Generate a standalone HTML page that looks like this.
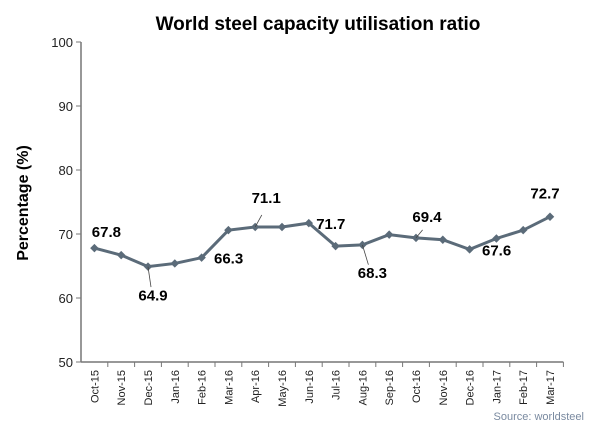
<!DOCTYPE html>
<html><head><meta charset="utf-8"><style>
body{margin:0;background:#fff;}
svg{display:block;font-family:"Liberation Sans",Arial,sans-serif;}
</style></head><body>
<svg id="chart" width="600" height="433">
<text x="318" y="30" text-anchor="middle" font-size="19" font-weight="bold" fill="#000">World steel capacity utilisation ratio</text>
<text transform="translate(28,203) rotate(-90)" text-anchor="middle" font-size="16" font-weight="bold" fill="#000">Percentage (%)</text>
<text x="584" y="420" text-anchor="end" font-size="11" fill="#7a8aa0">Source: worldsteel</text>
<g id="axes"></g><g id="series"></g><g id="labels"></g>
</svg>
<script>
const categories=["Oct-15","Nov-15","Dec-15","Jan-16","Feb-16","Mar-16","Apr-16","May-16","Jun-16","Jul-16","Aug-16","Sep-16","Oct-16","Nov-16","Dec-16","Jan-17","Feb-17","Mar-17"];
const values=[67.8,66.7,64.9,65.4,66.3,70.6,71.1,71.1,71.7,68.1,68.3,69.9,69.4,69.1,67.6,69.3,70.6,72.7];
const yTicks=[50,60,70,80,90,100];
const labeled=[0,2,4,6,8,10,12,14,17];
const ns="http://www.w3.org/2000/svg";
const X0=81,BW=26.8,Y0=362,YT=42;
function x(i){return X0+BW*(i+0.5);}
function y(v){return Y0-(v-50)/50*(Y0-YT);}
function mk(t,a,p){const e=document.createElementNS(ns,t);for(const k in a)e.setAttribute(k,a[k]);p.appendChild(e);return e;}
const ax=document.getElementById('axes');
let l=mk('line',{x1:X0,y1:YT,x2:X0,y2:Y0,stroke:'#777','stroke-width':1.5},ax);


l=mk('line',{x1:X0,y1:Y0,x2:X0+BW*categories.length,y2:Y0,stroke:'#777','stroke-width':1.5},ax);


yTicks.forEach(v=>{
 mk('line',{x1:X0-5,y1:y(v),x2:X0,y2:y(v),stroke:'#777'},ax);
 const t=mk('text',{x:X0-8,y:y(v)+5,'text-anchor':'end','font-size':13,fill:'#222'},ax);t.textContent=v;
 
 
});
categories.forEach((c,i)=>{
 mk('line',{x1:X0+BW*(i+1),y1:Y0,x2:X0+BW*(i+1),y2:Y0+5,stroke:'#777'},ax);
 const t=mk('text',{transform:`translate(${x(i)+4},${Y0+8}) rotate(-90)`,'text-anchor':'end','font-size':11,fill:'#222'},ax);t.textContent=c;
 
 
});
const s=document.getElementById('series');
const pl=mk('polyline',{points:values.map((v,i)=>x(i)+','+y(v)).join(' '),fill:'none',stroke:'#5b6b79','stroke-width':3},s);


values.forEach((v,i)=>{
 const p=mk('rect',{x:x(i)-3,y:y(v)-3,width:6,height:6,fill:'#5b6b79',transform:`rotate(45 ${x(i)} ${y(v)})`},s);
 
 
});
const off={0:[12,-11,0],2:[5,34,1],4:[27,6,0],6:[11,-24,1],8:[22,6,0],10:[10,33,1],12:[11,-16,1],14:[27,6,0],17:[-5,-18,0]};
const lg=document.getElementById('labels');
labeled.forEach(i=>{
 const [dx,dy,lead]=off[i];const px=x(i),py=y(values[i]);
 if(lead) mk('line',{x1:px,y1:py,x2:px+dx*0.6,y2:py+dy*(dy>0?0.6:0.5),stroke:'#444','stroke-width':0.8},lg);
 const t=mk('text',{x:px+dx,y:py+dy,'text-anchor':'middle','font-size':15,'font-weight':'bold',fill:'#000'},lg);
 t.textContent=values[i].toFixed(1);
 
 
});
</script>
</body></html>
